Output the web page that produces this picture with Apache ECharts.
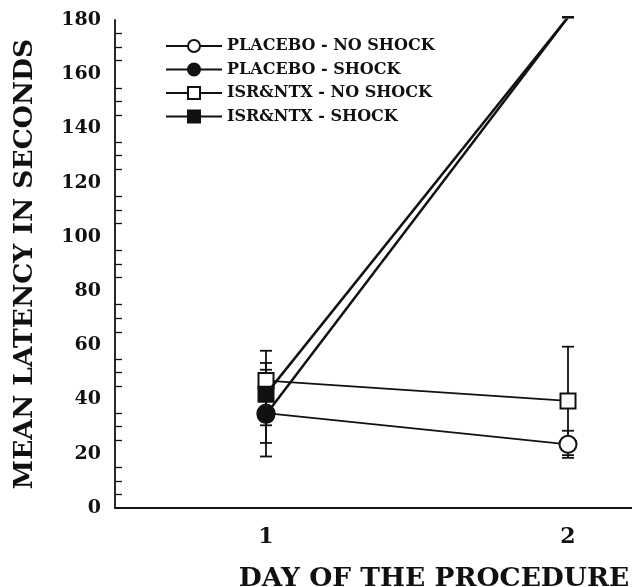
<!DOCTYPE html>
<html>
<head>
<meta charset="utf-8">
<script src="https://cdn.jsdelivr.net/npm/echarts@6/dist/echarts.min.js"></script>
<style>
html, body { margin: 0; padding: 0; background: #fff; }
#chart { width: 632px; height: 587px; }
</style>
</head>
<body>
<div id="chart"></div>
<script>
// days of the procedure
const days = ['1', '2']
const seriesNames = ['PLACEBO - NO SHOCK', 'PLACEBO - SHOCK', 'ISR&NTX - NO SHOCK', 'ISR&NTX - SHOCK']
// mean latency (s)
const placeboNoShock = [35, 23.5]
const placeboShock = [34.5, 181]
const isrNoShock = [47, 39.5]
const isrShock = [42, 181]
// error (+/-)
const placeboNoShockErr = [16, 5]
const placeboShockErr = [10.5, 0]
const isrNoShockErr = [11, 20]
const isrShockErr = [11.5, 0]

const FONT = 'DejaVu Serif'

const errorSeries = (vals, errs) => ({
 type: 'custom',
 silent: true,
 z: 1,
 data: vals.map((v, i) => [i, v - errs[i], v + errs[i]]),
 renderItem: (params, api) => {
  const lo = api.coord([api.value(0), api.value(1)])
  const hi = api.coord([api.value(0), api.value(2)])
  const w = 6
  const style = { stroke: '#111', lineWidth: 1.8 }
  return {
   type: 'group',
   children: [
    { type: 'line', shape: { x1: lo[0], y1: lo[1], x2: hi[0], y2: hi[1] }, style },
    { type: 'line', shape: { x1: lo[0] - w, y1: lo[1], x2: lo[0] + w, y2: lo[1] }, style },
    { type: 'line', shape: { x1: hi[0] - w, y1: hi[1], x2: hi[0] + w, y2: hi[1] }, style }
   ]
  }
 }
})

const lineSeries = (name, vals, symbol, filled, z, width) => ({
 name,
 type: 'line',
 data: vals,
 symbol,
 symbolSize: symbol === 'circle' ? 17 : 15,
 z,
 lineStyle: { color: '#111', width },
 itemStyle: { color: filled ? '#111' : '#fff', borderColor: '#111', borderWidth: 2 },
 emphasis: { disabled: true }
})

const chart = echarts.init(document.getElementById('chart'))
chart.setOption({
 animation: false,
 backgroundColor: '#fff',
 grid: { left: 115, top: 20, width: 604, height: 488, outerBoundsMode: 'none' },
 legend: {
  orient: 'vertical',
  left: 160,
  top: 33,
  itemWidth: 56,
  itemHeight: 15,
  itemGap: 7.5,
  data: seriesNames,
  textStyle: { fontFamily: FONT, fontWeight: 'bold', fontSize: 16, color: '#111' }
 },
 xAxis: {
  type: 'category',
  data: days,
  boundaryGap: true,
  axisLine: { lineStyle: { color: '#111', width: 1.8 } },
  axisTick: { inside: true, alignWithLabel: true, length: 9, lineStyle: { color: '#111', width: 1.8 } },
  axisLabel: { margin: 18, fontFamily: FONT, fontWeight: 'bold', fontSize: 22, color: '#111' },
  name: 'DAY OF THE PROCEDURE',
  nameLocation: 'middle',
  nameGap: 58,
  nameTextStyle: { fontFamily: FONT, fontWeight: 'bold', fontSize: 26.5, color: '#111', padding: [0, 0, 0, 34] }
 },
 yAxis: {
  type: 'value',
  min: 0,
  max: 180,
  interval: 20,
  splitLine: { show: false },
  axisLine: { show: true, lineStyle: { color: '#111', width: 1.8 } },
  axisTick: { inside: true, length: 9, lineStyle: { color: '#111', width: 1.5 } },
  minorTick: { show: true, splitNumber: 4, length: 7, lineStyle: { color: '#111', width: 1.3 } },
  axisLabel: { margin: 14, fontFamily: FONT, fontWeight: 'bold', fontSize: 19, color: '#111' },
  name: 'MEAN LATENCY IN SECONDS',
  nameLocation: 'middle',
  nameGap: 76,
  nameTextStyle: { fontFamily: FONT, fontWeight: 'bold', fontSize: 26.5, color: '#111' }
 },
 series: [
  errorSeries(placeboNoShock, placeboNoShockErr),
  errorSeries(placeboShock, placeboShockErr),
  errorSeries(isrNoShock, isrNoShockErr),
  errorSeries(isrShock, isrShockErr),
  lineSeries(seriesNames[0], placeboNoShock, 'circle', false, 2, 1.8),
  lineSeries(seriesNames[1], placeboShock, 'circle', true, 4, 2.5),
  lineSeries(seriesNames[2], isrNoShock, 'rect', false, 3, 1.8),
  lineSeries(seriesNames[3], isrShock, 'rect', true, 5, 2.5)
 ]
})
</script>
</body>
</html>
